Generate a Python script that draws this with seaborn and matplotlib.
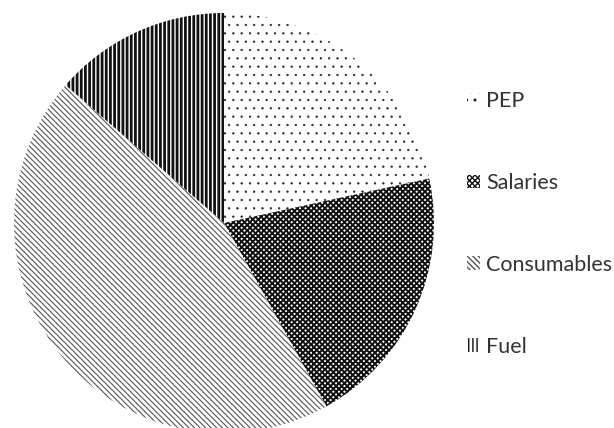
import matplotlib
matplotlib.use("Agg")
import matplotlib.pyplot as plt
from matplotlib.patches import Patch
import seaborn as sns

# Shares of total cost
categories = ["PEP", "Salaries", "Consumables", "Fuel"]
shares = [21.6, 20.3, 44.5, 13.6]

# one hatch per category, no fill colour (black & white print style)
hatches = ["..", "xxxxxx", "\\\\\\\\\\\\", "||||"]
hatch_colors = ["#222222", "#111111", "#555555", "#111111"]
hatch_widths = [0.4, 1.4, 0.8, 2.0]

sns.set_theme(style="white")
plt.rcParams["font.family"] = ["Lato", "DejaVu Sans"]
plt.rcParams["hatch.linewidth"] = 1.0


def style_patch(p, h, c, lw):
    p.set_hatch(h)
    p.set_edgecolor(c)
    p.set_linewidth(0)
    try:
        p.set_hatch_linewidth(lw)
    except AttributeError:
        pass


fig = plt.figure(figsize=(6.14, 4.28), dpi=100)
# pie centre ~ (224, 223) px, radius ~ 210 px
ax = fig.add_axes([14 / 614, -5 / 428, 420 / 614, 420 / 428])

wedges, _ = ax.pie(shares, startangle=90, counterclock=False,
                   colors=["white"] * len(shares), radius=1.0,
                   wedgeprops=dict(linewidth=0))
for w, h, c, lw in zip(wedges, hatches, hatch_colors, hatch_widths):
    style_patch(w, h, c, lw)
ax.set_xlim(-1, 1)
ax.set_ylim(-1, 1)
ax.set_aspect("equal")
ax.axis("off")

handles = []
for lab, h, c, lw in zip(categories, hatches, hatch_colors, hatch_widths):
    p = Patch(facecolor="white", label=lab)
    style_patch(p, h, c, lw)
    handles.append(p)
fig.legend(handles=handles, loc="center left", bbox_to_anchor=(456 / 614, 0.477),
           frameon=False, fontsize=15.5, labelcolor="#333333",
           handlelength=0.6, handleheight=0.6, handletextpad=0.3,
           labelspacing=2.87, borderpad=0)

fig.savefig("out.png", dpi=100)
